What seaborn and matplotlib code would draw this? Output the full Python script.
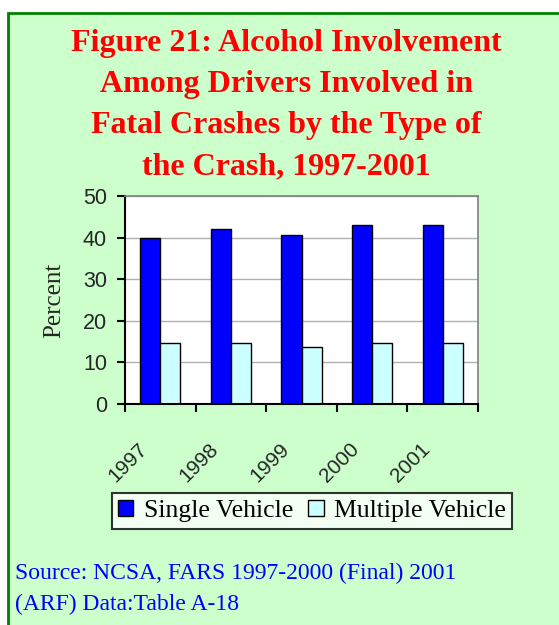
import matplotlib
matplotlib.use("Agg")
import matplotlib.pyplot as plt
import matplotlib.transforms as mtransforms
from matplotlib.patches import Rectangle, Patch
import pandas as pd
import seaborn as sns

years = ["1997", "1998", "1999", "2000", "2001"]
single_vehicle = [39.8, 42.1, 40.7, 43.1, 43.1]
multiple_vehicle = [14.7, 14.7, 13.7, 14.7, 14.7]
series_names = ["Single Vehicle", "Multiple Vehicle"]
title_lines = [
    "Figure 21: Alcohol Involvement",
    "Among Drivers Involved in",
    "Fatal Crashes by the Type of",
    "the Crash, 1997-2001",
]
source_text = "Source: NCSA, FARS 1997-2000 (Final) 2001\n(ARF) Data:Table A-18"

df = pd.DataFrame({
    "year": years * 2,
    "value": single_vehicle + multiple_vehicle,
    "series": [series_names[0]] * len(years) + [series_names[1]] * len(years),
})

sns.set_style("white")
plt.rcParams["font.family"] = ["Liberation Sans", "DejaVu Sans"]

W, H = 559, 625
fig = plt.figure(figsize=(W / 100, H / 100), dpi=100, facecolor="white")

# green panel with dark green border
fig.patches.append(Rectangle((8 / W, -0.05), 1.2, 1 - 13 / H + 0.05,
                             transform=fig.transFigure, facecolor="#CCFFCC",
                             edgecolor="#008000", linewidth=2, zorder=-10))

ax = fig.add_axes([125 / W, 1 - 404 / H, 353 / W, 208 / H])
ax.set_facecolor("white")

colors = ["#0000FF", "#CCFFFF"]
sns.barplot(data=df, x="year", y="value", hue="series", hue_order=series_names,
            palette=colors, width=0.57, gap=0, edgecolor="black", linewidth=1,
            saturation=1, ax=ax, legend=False)

ax.set_xlim(-0.5, len(years) - 0.5)
ax.set_ylim(0, 50)
ax.set_yticks(range(0, 51, 10))
ax.yaxis.grid(True, color="#B0B0B0", linewidth=1)
ax.set_axisbelow(True)

for side in ["top", "right"]:
    ax.spines[side].set_color("#808080")
    ax.spines[side].set_linewidth(1.2)
for side in ["left", "bottom"]:
    ax.spines[side].set_color("black")
    ax.spines[side].set_linewidth(1.5)

ax.tick_params(axis="y", which="major", direction="out", length=6, width=1.5,
               color="black", labelsize=15.5, pad=7, left=True)

# x: major ticks at category boundaries, labels on minor ticks at centers
ax.set_xticks([i - 0.5 for i in range(len(years) + 1)])
ax.set_xticklabels([])
ax.set_xticks(range(len(years)), minor=True)
ax.set_xticklabels(years, minor=True, rotation=45, ha="center", va="center",
                   fontsize=15)
ax.tick_params(axis="x", which="major", direction="out", length=6, width=1.5,
               color="black", bottom=True)
ax.tick_params(axis="x", which="minor", length=0, pad=0)
offset = mtransforms.ScaledTranslation(-32 / 100, -59 / 100, fig.dpi_scale_trans)
for lab in ax.get_xticklabels(minor=True):
    lab.set_transform(lab.get_transform() + offset)

ax.set_xlabel("")
ax.set_ylabel("Percent", fontsize=18, family=["Liberation Serif"], va="center")
ax.yaxis.set_label_coords(-0.2, 0.5)

fig.text(0.513, 1 - 105 / H, "\n".join(title_lines), ha="center", va="center",
         fontsize=23, fontweight="bold", color="#FF0000",
         family=["Liberation Serif"], linespacing=1.56)

handles = [Patch(facecolor=c, edgecolor="black", linewidth=1) for c in colors]
leg = fig.legend(handles, series_names, loc="center", ncol=2,
                 bbox_to_anchor=(312 / W, 1 - 511 / H),
                 prop={"family": "Liberation Serif", "size": 18.5},
                 frameon=True, fancybox=False, edgecolor="black",
                 handlelength=0.6, handleheight=0.6, handletextpad=0.4,
                 columnspacing=0.6, borderpad=0.25, borderaxespad=0)
leg.get_frame().set_linewidth(1.5)
leg.get_frame().set_facecolor("white")
for t in leg.get_texts():
    t.set_color("black")

fig.text(15 / W, 1 - 589 / H, source_text, ha="left", va="center",
         fontsize=17, color="#0000FF", family=["Liberation Serif"],
         linespacing=1.6)

fig.savefig("out.png", dpi=100, facecolor=fig.get_facecolor())
